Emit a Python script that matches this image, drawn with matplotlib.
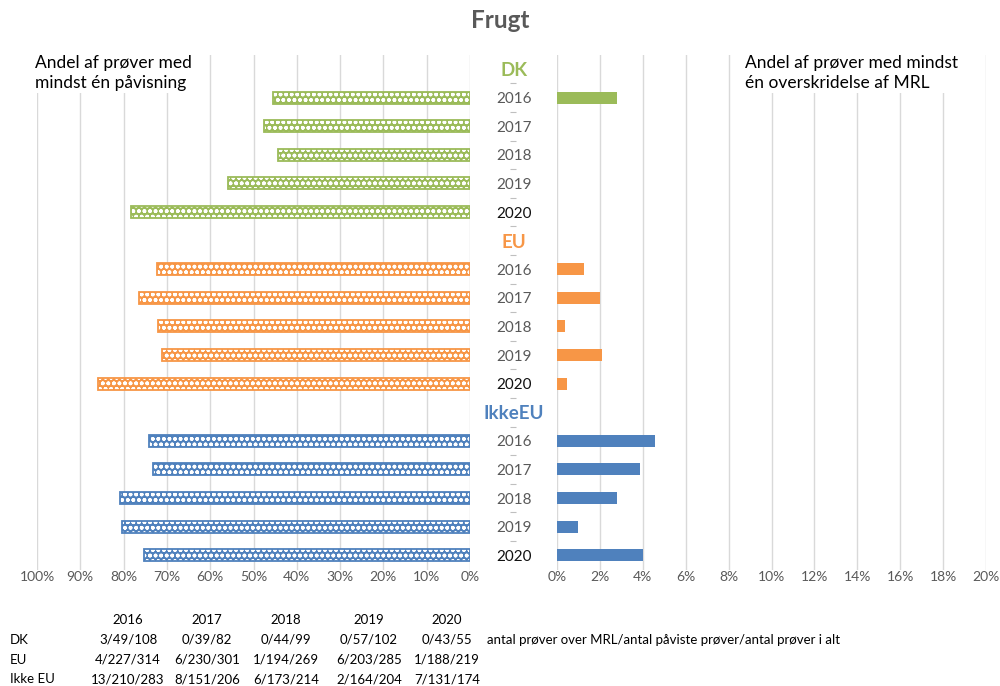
import matplotlib.pyplot as plt
import numpy as np

plt.rcParams['font.family'] = ['Lato', 'DejaVu Sans']
plt.rcParams['hatch.linewidth'] = 1.1

years = ['2016', '2017', '2018', '2019', '2020']
groups = ['DK', 'EU', 'IkkeEU']
group_colors = ['#9BBB59', '#F79646', '#4F81BD']

# share of samples with at least one detection
detect_dk = [0.454, 0.476, 0.444, 0.559, 0.782]
detect_eu = [0.723, 0.764, 0.721, 0.712, 0.858]
detect_ikke = [0.742, 0.733, 0.808, 0.804, 0.753]
# share of samples with at least one MRL exceedance
mrl_dk = [0.0278, 0.0, 0.0, 0.0, 0.0]
mrl_eu = [0.0127, 0.0199, 0.0037, 0.0211, 0.0046]
mrl_ikke = [0.0459, 0.0388, 0.0280, 0.0098, 0.0402]

table_rows = ['DK', 'EU', 'Ikke EU']
table_dk = ['3/49/108', '0/39/82', '0/44/99', '0/57/102', '0/43/55']
table_eu = ['4/227/314', '6/230/301', '1/194/269', '6/203/285', '1/188/219']
table_ikke = ['13/210/283', '8/151/206', '6/173/214', '2/164/204', '7/131/174']

detect_all = [detect_dk, detect_eu, detect_ikke]
mrl_all = [mrl_dk, mrl_eu, mrl_ikke]
table_all = [table_dk, table_eu, table_ikke]

fig = plt.figure(figsize=(10, 6.86), dpi=100)
bottom = 1 - 569.5 / 686
height = (569.5 - 54.7) / 686
axL = fig.add_axes([0.037, bottom, 0.433, height])
axR = fig.add_axes([0.557, bottom, 0.429, height])

grid_c = '#d9d9d9'
gray = '#595959'
bh = 0.42

labels = []
label_styles = []
for gi, g in enumerate(groups):
    c = group_colors[gi]
    labels.append(g)
    label_styles.append(('bold', c, 13.5))
    pos = [gi * 6 + 1 + k for k in range(5)]
    axL.barh(pos, detect_all[gi], height=bh, color=c, edgecolor='white',
             hatch='ooo', linewidth=0, zorder=3)
    axL.barh(pos, detect_all[gi], height=bh, facecolor='none', edgecolor=c,
             linewidth=1.3, zorder=4)
    axR.barh(pos, mrl_all[gi], height=bh, color=c, linewidth=0, zorder=3)
    for k, y in enumerate(years):
        labels.append(y)
        label_styles.append(('normal', '#111111' if y == '2020' else gray, 11))

n = len(labels)
for ax in (axL, axR):
    ax.set_ylim(n - 0.5, -0.5)
    for s in ax.spines.values():
        s.set_visible(False)
    ax.grid(axis='x', color=grid_c, linewidth=1, zorder=0)
    ax.set_axisbelow(True)
    ax.tick_params(axis='x', length=0, pad=1, labelsize=10, labelcolor=gray)

axL.set_xlim(1.0, 0.0)
lt = np.arange(0, 1.01, 0.1)
axL.set_xticks(lt)
axL.set_xticklabels([f"{int(round(v*100))}%" for v in lt])
axL.set_yticks([])

axR.set_xlim(0, 0.2)
rt = np.arange(0, 0.201, 0.02)
axR.set_xticks(rt)
axR.set_xticklabels([f"{int(round(v*100))}%" for v in rt])
axR.set_yticks(range(n))
axR.set_yticklabels(labels)
axR.tick_params(axis='y', length=0, pad=31)
for t, (w, c, s) in zip(axR.get_yticklabels(), label_styles):
    t.set_fontweight(w)
    t.set_color(c)
    t.set_fontsize(s)
    t.set_horizontalalignment('center')

# small separator ticks in middle column
axM = fig.add_axes([0.513, bottom, 0.0001, height])
axM.set_ylim(n - 0.5, -0.5)
axM.set_yticks(np.arange(0.5, n - 1, 1))
axM.set_yticklabels([])
axM.set_xticks([])
axM.tick_params(axis='y', length=4, direction='inout', color='#bfbfbf', width=0.8)
for s in axM.spines.values():
    s.set_visible(False)
axM.patch.set_visible(False)

fig.text(0.5, 1 - 20 / 686, 'Frugt', ha='center', va='center', fontsize=17.5,
         fontweight='bold', color=gray)
fig.text(0.035, 1 - 73 / 686, 'Andel af prøver med\nmindst én påvisning', ha='left',
         va='center', fontsize=12.5, linespacing=1.25,
         bbox=dict(facecolor='white', edgecolor='none', pad=2))
fig.text(0.745, 1 - 73 / 686, 'Andel af prøver med mindst\nén overskridelse af MRL', ha='left',
         va='center', fontsize=12.5, linespacing=1.25,
         bbox=dict(facecolor='white', edgecolor='none', pad=2))

# table below
col_x = [128, 207, 286, 369, 447]
for x, y in zip(col_x, years):
    fig.text(x / 1000, 1 - 620 / 686, y, ha='center', va='center', fontsize=9.5)
row_y = [640, 660, 679]
for ry, rname, vals in zip(row_y, table_rows, table_all):
    fig.text(0.010, 1 - ry / 686, rname, ha='left', va='center', fontsize=9.5)
    for x, v in zip(col_x, vals):
        fig.text(x / 1000, 1 - ry / 686, v, ha='center', va='center', fontsize=9.5)
fig.text(0.487, 1 - 640 / 686, 'antal prøver over MRL/antal påviste prøver/antal prøver i alt',
         ha='left', va='center', fontsize=9.5)

fig.savefig('out.png', dpi=100)
